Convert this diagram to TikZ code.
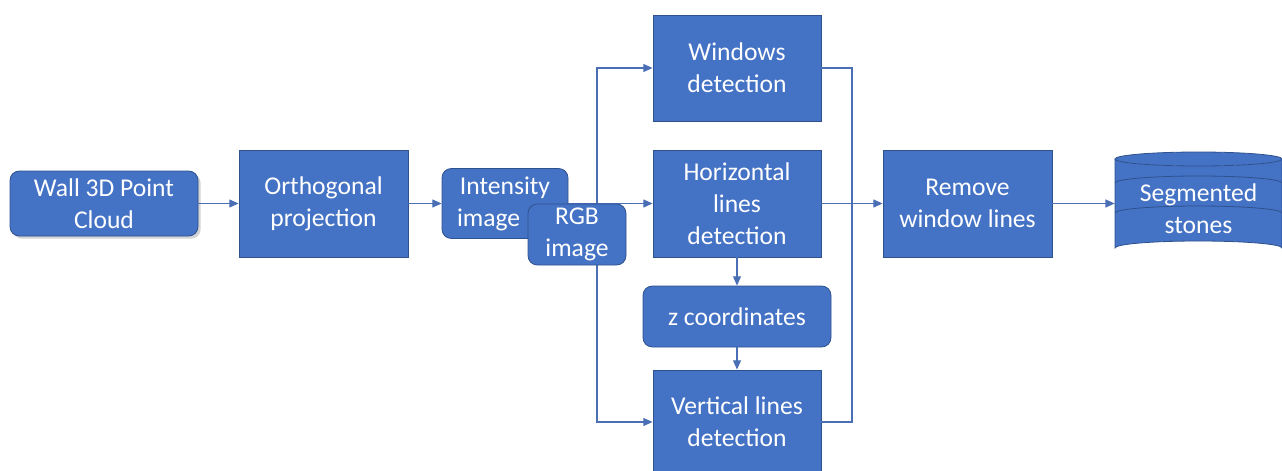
\documentclass[tikz,border=0pt]{standalone}
\usepackage{fontspec}
\setmainfont{Carlito}
\usetikzlibrary{arrows.meta,shadows}
\definecolor{boxblue}{HTML}{4472C4}
\definecolor{edgeblue}{HTML}{2F528F}
\definecolor{lineblue}{HTML}{4A6FB5}
\tikzset{
  base/.style={fill=boxblue, draw=edgeblue, line width=0.6pt, text=white, align=center,
    font=\fontsize{19.2}{24}\selectfont, inner sep=2pt},
  sq/.style={base},
  rnd/.style={base, rounded corners=7pt},
  conn/.style={draw=lineblue, line width=0.9pt},
  arr/.style={conn, -{Triangle[length=7pt,width=6pt]}},
}
\begin{document}
\begin{tikzpicture}[x=0.75pt,y=-0.75pt]
\useasboundingbox (0,0) rectangle (1282,471);
% cylinder
\fill[boxblue] (1115,159) -- (1115,248) arc[start angle=180,end angle=360,x radius=83.5,y radius=7] -- (1282,159) arc[start angle=0,end angle=180,x radius=83.5,y radius=7] -- cycle;
\draw[edgeblue, line width=0.6pt] (1115,159) -- (1115,248) arc[start angle=180,end angle=360,x radius=83.5,y radius=7] -- (1282,159);
\draw[edgeblue, line width=0.6pt, fill=boxblue] (1198.5,159) ellipse[x radius=83.5,y radius=7];
\draw[edgeblue, line width=0.6pt] (1115,183) arc[start angle=180,end angle=360,x radius=83.5,y radius=7];
\draw[edgeblue, line width=0.6pt] (1115,213) arc[start angle=180,end angle=360,x radius=83.5,y radius=7];
\node[base, fill=none, draw=none, minimum width=125pt, minimum height=60pt] (seg) at (1198.5,209) {Segmented\\stones};

\node[rnd, drop shadow={opacity=0.35, shadow xshift=2pt, shadow yshift=-2pt}, minimum width=141pt, minimum height=48.75pt] (wall) at (104,203.5) {Wall 3D Point\\Cloud};
\node[sq, minimum width=126.75pt, minimum height=80.25pt] (orth) at (323.5,203.5) {Orthogonal\\projection};
\node[rnd, align=left, minimum width=94.5pt, minimum height=52.5pt, text width=72pt] (int) at (505,203.5) {\hfil Intensity\hfil\\image};
\node[sq, minimum width=126pt, minimum height=79.5pt] (win) at (737,68) {Windows\\detection};
\node[sq, minimum width=126pt, minimum height=80.25pt] (hor) at (737,203.5) {Horizontal\\lines\\detection};
\node[rnd, minimum width=141pt, minimum height=45.75pt] (zc) at (737,316.5) {z coordinates};
\node[sq, minimum width=126pt, minimum height=78pt] (ver) at (737,422) {Vertical lines\\detection};
\node[sq, minimum width=126.75pt, minimum height=80.25pt] (rem) at (967.5,203.5) {Remove\\window lines};

\coordinate (j) at (597,203.5);
\coordinate (r) at (852,203.5);
\draw[arr] (wall.east) -- (orth.west);
\draw[arr] (orth.east) -- (int.west);
\draw[arr] (int.east) -- (hor.west);
\draw[arr] (j) |- (win.west);
\draw[arr] (j) |- (ver.west);
\draw[arr] (hor.south) -- (zc.north);
\draw[arr] (zc.south) -- (ver.north);
\draw[conn] (win.east) -| (r);
\draw[conn] (ver.east) -| (r);
\draw[arr] (hor.east) -- (rem.west);
\draw[arr] (rem.east) -- (rem.east -| seg.west);

\node[rnd, minimum width=73.5pt, minimum height=45.75pt] (rgb) at (577,234.5) {RGB\\image};
\end{tikzpicture}
\end{document}
